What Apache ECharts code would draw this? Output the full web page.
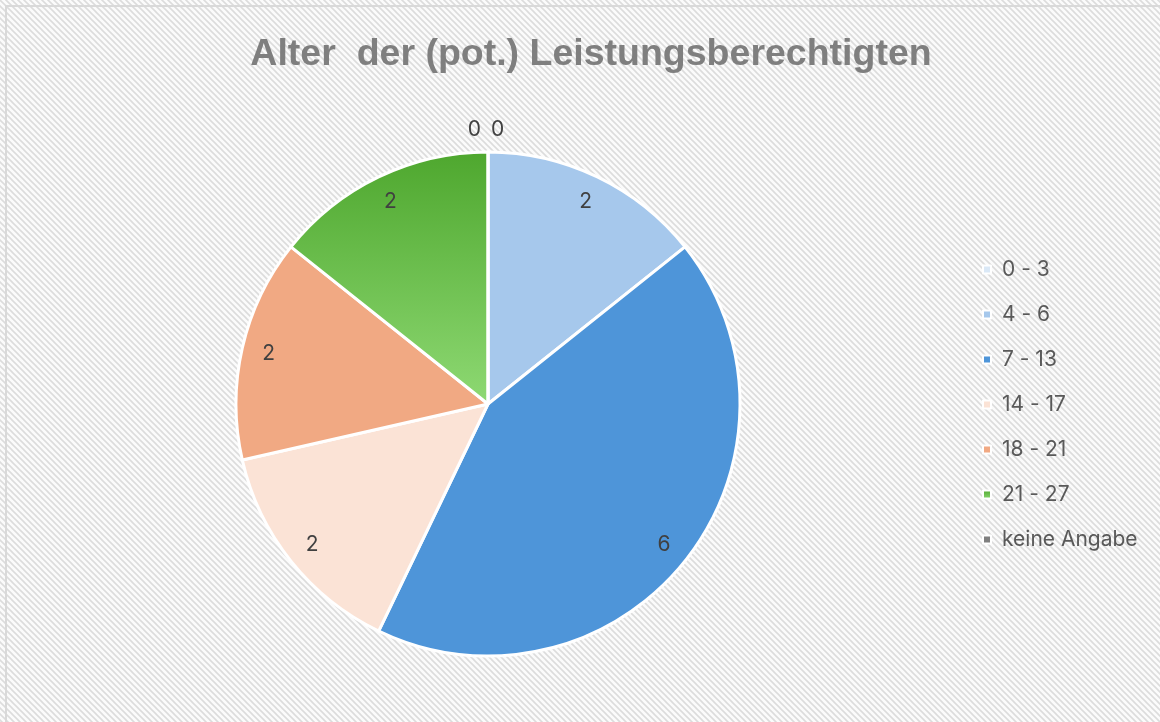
<!DOCTYPE html>
<html>
<head>
<meta charset="utf-8">
<script src="https://cdn.jsdelivr.net/npm/echarts@6/dist/echarts.min.js"></script>
<style>
  html, body { margin: 0; padding: 0; background: #fff; }
  #main { width: 1160px; height: 722px; }
</style>
</head>
<body>
<div id="main"></div>
<script>
  // Altersgruppen und Anzahl
  const categories = ["0 - 3", "4 - 6", "7 - 13", "14 - 17", "18 - 21", "21 - 27", "keine Angabe"];
  const values = [0, 2, 6, 2, 2, 2, 0];

  const colors = [
    "#DAE8F6",
    "#A6C8EC",
    "#4E95D9",
    "#FBE3D6",
    "#F1A983",
    new echarts.graphic.LinearGradient(0, 0, 0, 1, [
      { offset: 0, color: "#4EA72E" },
      { offset: 1, color: "#8ED973" },
    ]),
    "#7F7F7F",
  ];

  // hatch background
  const tile = document.createElement("canvas");
  tile.width = 6;
  tile.height = 6;
  const ctx = tile.getContext("2d");
  ctx.fillStyle = "#fbfbfb";
  ctx.fillRect(0, 0, 6, 6);
  ctx.strokeStyle = "#dcdcdc";
  ctx.lineWidth = 1.6;
  ctx.beginPath();
  ctx.moveTo(-3, -3); ctx.lineTo(9, 9);
  ctx.moveTo(-3, 3); ctx.lineTo(3, 9);
  ctx.moveTo(3, -3); ctx.lineTo(9, 3);
  ctx.stroke();

  var chartDom = document.getElementById("main");
  var myChart = echarts.init(chartDom);

  const pieData = categories.map((name, i) => ({
    name: name,
    value: values[i],
    itemStyle: { color: colors[i] },
  }));

  const labelData = categories.map((name, i) => {
    const item = { name: name, value: values[i] };
    if (values[i] === 0) {
      item.label = { position: "outside" };
    }
    return item;
  });

  const option = {
    backgroundColor: { image: tile, repeat: "repeat" },
    animation: false,
    title: {
      text: "Alter  der (pot.) Leistungsberechtigten",
      left: 586,
      top: 31,
      textAlign: "center",
      textStyle: {
        color: "#7F7F7F",
        fontFamily: "Liberation Sans",
        fontWeight: "bold",
        fontSize: 37.5,
      },
    },
    legend: {
      orient: "vertical",
      left: 977,
      top: 254,
      itemWidth: 8,
      itemHeight: 8,
      itemGap: 24,
      icon: "rect",
      data: categories,
      textStyle: {
        color: "#595959",
        fontFamily: "Inter",
        fontSize: 21,
        lineHeight: 21,
        padding: [0, 0, 0, 6],
      },
    },
    graphic: [
      {
        type: "rect",
        silent: true,
        shape: { x: 6, y: 6, width: 1160, height: 722 },
        style: { fill: "none", stroke: "#d9d9d9", lineWidth: 2 },
      },
    ],
    series: [
      {
        name: "Alter",
        type: "pie",
        center: [488, 404],
        radius: [0, 252],
        startAngle: 90,
        clockwise: true,
        avoidLabelOverlap: false,
        itemStyle: { borderColor: "#ffffff", borderWidth: 3 },
        label: { show: false },
        labelLine: { show: false },
        emphasis: { disabled: true },
        data: pieData,
      },
      {
        name: "Werte",
        type: "pie",
        center: [488, 404],
        radius: [192, 252],
        startAngle: 90,
        clockwise: true,
        silent: true,
        avoidLabelOverlap: false,
        legendHoverLink: false,
        itemStyle: { color: "rgba(0,0,0,0)", borderWidth: 0 },
        label: {
          show: true,
          position: "inside",
          formatter: "{c}",
          color: "#404040",
          fontFamily: "Inter",
          fontSize: 21,
        },
        labelLine: { show: false, length: 22, length2: 2 },
        // die beiden Null-Werte liegen übereinander: ersten nach rechts schieben
        labelLayout: function (p) {
          if (p.dataIndex === 0) {
            return { dx: p.labelRect.width + 10 };
          }
        },
        emphasis: { disabled: true },
        data: labelData,
      },
    ],
  };

  option && myChart.setOption(option);
</script>
</body>
</html>
